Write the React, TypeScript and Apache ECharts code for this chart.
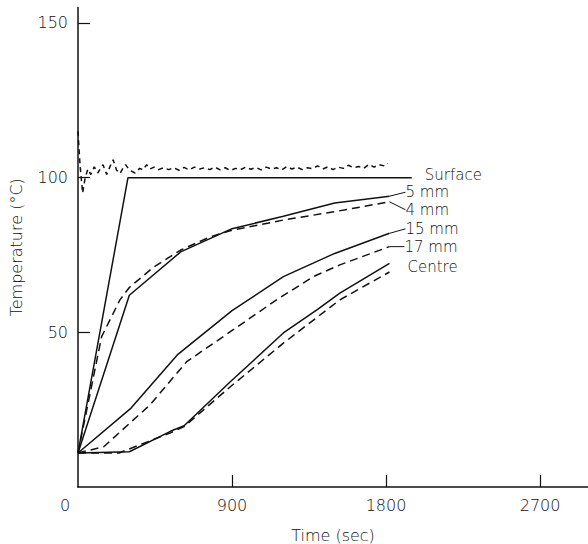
import React, { useEffect, useRef } from "react";
import * as echarts from "echarts";

// Time (sec) vs temperature (°C)
const xTickValues = [0, 900, 1800, 2700];
const yTickValues = [50, 100, 150];

const surfaceSolid = [[0, 11], [292, 100], [1950, 100]];
const surfaceMeasured = [
  [0, 115], [12, 104], [27, 95], [42, 100], [58, 102.8], [75, 101], [95, 103.5], [115, 101.5],
  [146, 104.2], [168, 101], [190, 104], [205, 105.8], [225, 102.5], [245, 101.3], [262, 103],
  [278, 104.2], [300, 102.5], [333, 101.5], [360, 103], [380, 102.5], [401, 104.2], [420, 102.8],
  [445, 103.4], [470, 102.6], [500, 103.2], [530, 102.6], [560, 103.2], [590, 102.4], [620, 103.3],
  [650, 102.5], [680, 103.4], [710, 102.8], [740, 103.2], [770, 102.6], [800, 103.4], [830, 102.5],
  [860, 103.2], [890, 102.3], [920, 103], [950, 102.6], [980, 103.4], [1010, 102.7], [1040, 103.3],
  [1070, 102.5], [1100, 103.4], [1130, 102.8], [1160, 103.2], [1190, 102.5], [1220, 103.6],
  [1250, 102.8], [1280, 103.4], [1310, 102.6], [1340, 103.2], [1370, 102.9], [1400, 103.8],
  [1430, 102.8], [1460, 103.5], [1490, 102.6], [1520, 103.4], [1550, 103], [1580, 104],
  [1610, 103.2], [1640, 103.6], [1670, 103], [1700, 104.3], [1730, 103.4], [1760, 104.2],
  [1790, 103.8], [1810, 104.6],
];
const mm5 = [[0, 11], [300, 62], [600, 76], [900, 83.5], [1200, 87.5], [1500, 91.8], [1820, 94]];
const mm4 = [[0, 11], [138, 48.6], [245, 60.5], [300, 64.5], [440, 71], [600, 76.6], [770, 80.8], [900, 83], [1200, 86.3], [1500, 89], [1820, 92.2]];
const mm15 = [[0, 11], [310, 25.5], [580, 42.7], [900, 57], [1200, 68], [1500, 75.5], [1820, 82]];
const mm17 = [[0, 11], [150, 13], [420, 26.5], [635, 40.5], [890, 50.2], [1160, 60.5], [1375, 68], [1530, 71.8], [1820, 77.7]];
const centre = [[0, 11], [300, 11.4], [540, 18], [620, 19.8], [890, 34], [1200, 49.8], [1400, 57.4], [1530, 62.7], [1820, 72.3]];
const centreMeasured = [[0, 11], [240, 11], [360, 13.6], [540, 17.5], [620, 19.5], [890, 32.4], [1200, 46.5], [1530, 60.5], [1820, 69.5]];

const FONT = "DejaVu Sans";
const INK = "#111111";

function withEndLabel(data: number[][], text: string | null) {
  return data.map((p, i) =>
    i === data.length - 1 && text
      ? { value: p, label: { show: true, formatter: text } }
      : { value: p }
  );
}

function lineSeries(
  name: string,
  data: number[][],
  dashed: number[] | null,
  label: string | null,
  dx: number,
  dy: number,
  leader: boolean
) {
  return {
    name,
    type: "line",
    data: withEndLabel(data, label),
    showSymbol: true,
    symbol: "circle",
    symbolSize: 0,
    color: INK,
    lineStyle: { color: INK, width: 1.5, type: dashed ? dashed : "solid" },
    label: {
      show: false,
      position: "right",
      distance: 0,
      fontSize: 15,
      fontFamily: FONT,
      fontWeight: 300,
      color: INK,
    },
    labelLayout: { dx, dy },
    labelLine: { show: leader, lineStyle: { color: INK, width: 1 } },
    silent: true,
  };
}

export default function App() {
  const ref = useRef<HTMLDivElement>(null);
  useEffect(() => {
    if (!ref.current) return;
    const chart = echarts.init(ref.current, null, { renderer: "svg" });
    const axisText = { fontSize: 16, fontFamily: FONT, fontWeight: 300, color: INK };
    chart.setOption({
      animation: false,
      backgroundColor: "#ffffff",
      grid: { left: 78, right: 0, top: 7.5, bottom: 57, containLabel: false, outerBoundsMode: "none" },
      xAxis: {
        type: "value",
        min: 0,
        max: 2980,
        name: "Time (sec)",
        nameLocation: "middle",
        nameGap: 40,
        nameTextStyle: axisText,
        axisLine: { show: true, lineStyle: { color: INK, width: 1.5 } },
        axisTick: { show: true, inside: true, length: 12, customValues: xTickValues.filter((v) => v > 0), lineStyle: { color: INK, width: 1.2 } },
        axisLabel: {
          ...axisText,
          margin: 10,
          customValues: xTickValues,
          formatter: (v: number) => (v === 0 ? "{z|0}" : String(v)),
          rich: { z: { ...axisText, padding: [0, 26, 0, 0] } },
        },
        splitLine: { show: false },
      },
      yAxis: {
        type: "value",
        min: 0,
        max: 155,
        name: "Temperature (°C)",
        nameLocation: "middle",
        nameGap: 54,
        nameTextStyle: axisText,
        axisLine: { show: true, lineStyle: { color: INK, width: 1.5 } },
        axisTick: { show: true, inside: true, length: 12, customValues: yTickValues, lineStyle: { color: INK, width: 1.2 } },
        axisLabel: { ...axisText, margin: 10, customValues: yTickValues },
        splitLine: { show: false },
      },
      series: [
        lineSeries("Surface", surfaceSolid, null, "Surface", 13, -3, false),
        lineSeries("Surface (measured)", surfaceMeasured, [5, 4], null, 0, 0, false),
        lineSeries("5 mm", mm5, null, "5 mm", 16, -4, true),
        lineSeries("4 mm", mm4, [8, 5], "4 mm", 16, 8, true),
        lineSeries("15 mm", mm15, null, "15 mm", 16, -4.5, true),
        lineSeries("17 mm", mm17, [8, 5], "17 mm", 15, 0, true),
        lineSeries("Centre", centre, null, "Centre", 18, 3.5, false),
        lineSeries("Centre (measured)", centreMeasured, [8, 5], null, 0, 0, false),
      ],
    });
    return () => chart.dispose();
  }, []);
  return (
    <div
      ref={ref}
      style={{ position: "fixed", left: 0, top: 0, width: 588, height: 544, background: "#fff" }}
    />
  );
}
